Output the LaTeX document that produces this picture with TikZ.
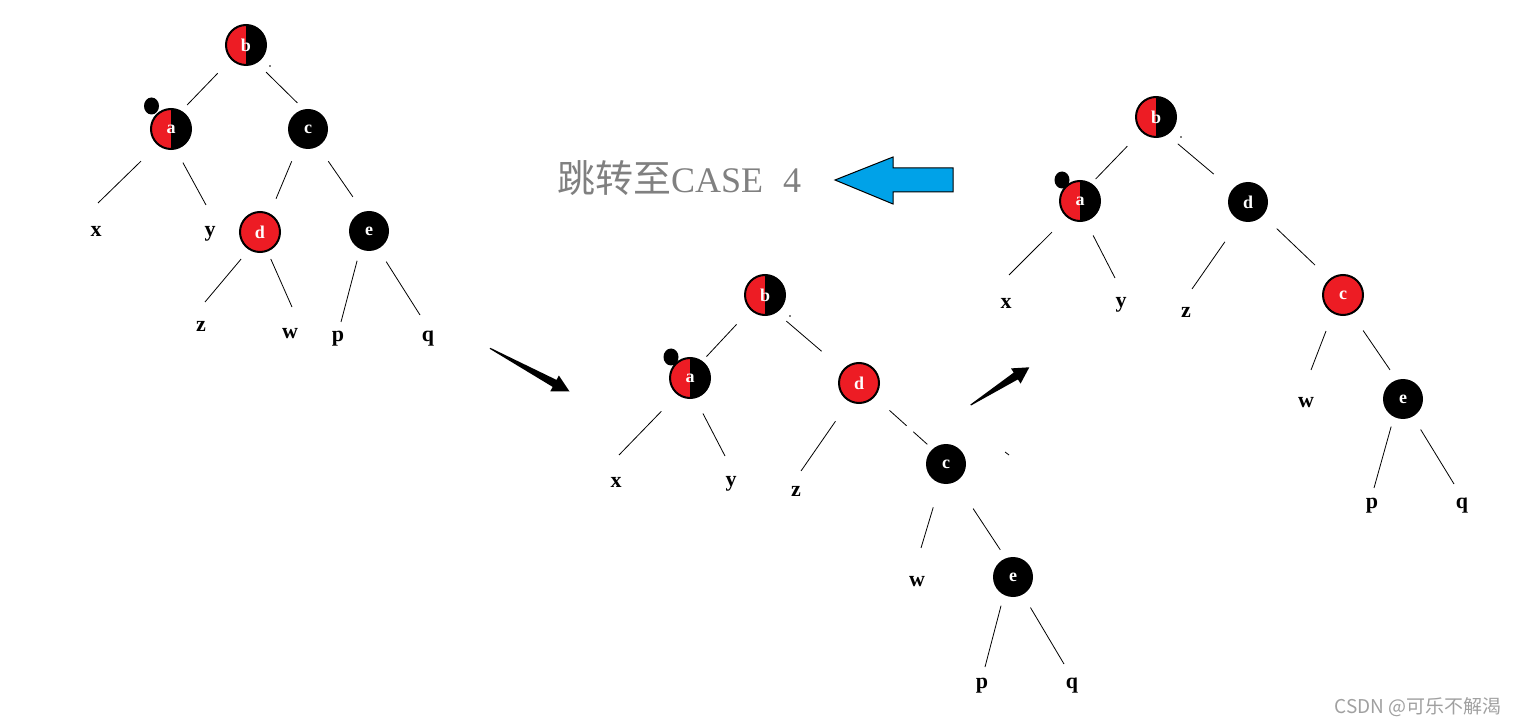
\documentclass[tikz,border=0pt]{standalone}
\usepackage{fontspec}
\setmainfont{Liberation Serif}
\newfontfamily\cjk{Noto Sans CJK SC}
\usepackage{xcolor}
\definecolor{rbred}{RGB}{237,28,36}
\definecolor{arrowblue}{RGB}{0,162,232}
\definecolor{tipgray}{RGB}{128,128,128}
\definecolor{markgray}{RGB}{160,160,160}

\begin{document}
\begin{tikzpicture}[x=1pt, y=-1pt,
                    rb/.style={circle, minimum size=40pt, inner sep=0pt, text=white, font=\fontsize{18}{18}\selectfont\bfseries},
                    blacknode/.style={rb, fill=black},
                    rednode/.style={rb, fill=rbred, draw=black, line width=2pt},
                    halfnode/.style={rb, draw=black, line width=2pt, path picture={
                        \fill[rbred] (path picture bounding box.south west) rectangle (path picture bounding box.north);
                        \fill[black] (path picture bounding box.south) rectangle (path picture bounding box.north east);}},
                    leaf/.style={inner sep=0pt, text height=1ex, text depth=0pt, font=\fontsize{22}{22}\selectfont\bfseries},
                    edge/.style 2 args={line width=0.8pt, shorten <=#1pt, shorten >=#2pt}]
                        \useasboundingbox (0,0) rectangle (1516,727);

                        % first tree
                        \node (b1) at (246,45) [halfnode] {b};
                        \node (a1) at (171,129) [halfnode] {a};
                        \node (c1) at (308,129) [blacknode] {c};
                        \node (d1) at (260,232) [rednode] {d};
                        \node (e1) at (369,231) [blacknode] {e};
                        \fill (151.5,106) ellipse (7.5 and 8.5);
                        \fill (270,66) circle (0.8);
                        \node (x1) at (96,234) [leaf] {x};
                        \node (y1) at (210,234) [leaf] {y};
                        \node (z1) at (201,329) [leaf] {z};
                        \node (w1) at (290,336) [leaf] {w};
                        \node (p1) at (338,339) [leaf] {p};
                        \node (q1) at (428,339) [leaf] {q};
                        \coordinate (xe1) at (98,203);
                        \coordinate (ye1) at (206,205);
                        \coordinate (ze1) at (205,302);
                        \coordinate (we1) at (292,307);
                        \coordinate (pe1) at (341,322);
                        \coordinate (qe1) at (420,315);

                    \draw[edge={19}{8}] (b1.-136) -- (a1.60);
                        \draw[edge={13}{9}] (b1.-59) -- (c1.102);
                        \draw[edge={23}{0}] (a1.-130) -- (xe1);
                        \draw[edge={15}{0}] (a1.-77) -- (ye1);
                        \draw[edge={16}{16}] (c1.-120) -- (d1.62);
                        \draw[edge={18}{18}] (c1.-60) -- (e1.107);
                        \draw[edge={12}{0}] (d1.-122) -- (ze1);
                        \draw[edge={8}{0}] (d1.-69) -- (we1);
                        \draw[edge={12}{0}] (e1.-116) -- (pe1);
                        \draw[edge={15}{0}] (e1.-63) -- (qe1);

                        % second tree
                        \node (b2) at (765,295) [halfnode] {b};
                        \node (a2) at (690,378) [halfnode] {a};
                        \node (d2) at (859,383) [rednode] {d};
                        \node (c2) at (946,464) [blacknode] {c};
                        \node (e2) at (1013,577) [blacknode] {e};
                        \fill (671,357) ellipse (7.5 and 8.5);
                        \fill (790,316) circle (0.8);
                        \draw[line width=0.8pt] (1005,452) -- (1009,455);
                        \node (x2) at (616,485) [leaf] {x};
                        \node (y2) at (731,484) [leaf] {y};
                        \node (z2) at (796,494) [leaf] {z};
                        \node (w2) at (917,584) [leaf] {w};
                        \node (p2) at (982,686) [leaf] {p};
                        \node (q2) at (1072,686) [leaf] {q};
                        \coordinate (xe2) at (619,455);
                        \coordinate (ye2) at (725,456);
                        \coordinate (ze2) at (801,471);
                        \coordinate (we2) at (921,548);
                        \coordinate (pe2) at (985,667);
                        \coordinate (qe2) at (1064,664);

                    \draw[edge={20}{6}] (b2.-135) -- (a2.54);
                        \draw[edge={13}{28}] (b2.-57) -- (d2.140);
                        \draw[edge={23}{0}] (a2.-127) -- (xe2);
                        \draw[edge={17}{0}] (a2.-76) -- (ye2);
                        \draw[edge={24}{0}] (d2.-118) -- (ze2);
                        \draw[edge={20}{7}, dash pattern=on 23pt off 9pt on 20pt] (d2.-42) -- (c2.132);
                        \draw[edge={25}{0}] (c2.-106) -- (we2);
                        \draw[edge={32}{10}] (c2.-62) -- (e2.111);
                        \draw[edge={11}{0}] (e2.-117) -- (pe2);
                        \draw[edge={15}{0}] (e2.-61) -- (qe2);

                        % third tree
                        \node (b3) at (1156,117) [halfnode] {b};
                        \node (a3) at (1080,201) [halfnode] {a};
                        \node (d3) at (1248,202) [blacknode] {d};
                        \node (c3) at (1343,295) [rednode] {c};
                        \node (e3) at (1403,399) [blacknode] {e};
                        \fill (1062,180) ellipse (7.5 and 8.5);
                        \fill (1181,137) circle (0.8);
                        \node (x3) at (1006,306) [leaf] {x};
                        \node (y3) at (1121,305) [leaf] {y};
                        \node (z3) at (1186,315) [leaf] {z};
                        \node (w3) at (1306,405) [leaf] {w};
                        \node (p3) at (1372,506) [leaf] {p};
                        \node (q3) at (1462,506) [leaf] {q};
                        \coordinate (xe3) at (1009,275);
                        \coordinate (ye3) at (1115,278);
                        \coordinate (ze3) at (1192,289);
                        \coordinate (we3) at (1311,370);
                        \coordinate (pe3) at (1374,488);
                        \coordinate (qe3) at (1454,484);

                    \draw[edge={20}{6}] (b3.-135) -- (a3.57);
                        \draw[edge={14}{24}] (b3.-58) -- (d3.142);
                        \draw[edge={21}{0}] (a3.-129) -- (xe3);
                        \draw[edge={16}{0}] (a3.-74) -- (ye3);
                        \draw[edge={26}{0}] (d3.-114) -- (ze3);
                        \draw[edge={19}{20}] (d3.-42) -- (c3.130);
                        \draw[edge={19}{0}] (c3.-119) -- (we3);
                        \draw[edge={20}{12}] (c3.-65) -- (e3.108);
                        \draw[edge={10}{0}] (e3.-117) -- (pe3);
                        \draw[edge={15}{0}] (e3.-61) -- (qe3);

                        % arrows between the trees
                        \fill (490.3,347.8) -- (556.5,379.9) -- (558.9,375.5) -- (569.5,391.5)
                            -- (550.3,391.3) -- (552.7,386.9) -- (489.7,348.8) -- cycle;
                        \fill (970.4,404.5) -- (1013.7,372.6) -- (1011.0,368.4) -- (1029.3,367.3)
                            -- (1020.6,383.6) -- (1017.9,379.4) -- (971.0,405.5) -- cycle;
                        \filldraw[fill=arrowblue, draw=black, line width=1pt]
                            (835,180) -- (893,157) -- (893,168) -- (953,168) -- (953,192) -- (893,192) -- (893,204) -- cycle;

                        \node (jump) at (557,193) [anchor=base west, inner sep=0pt, text=tipgray]
                            {{\cjk\fontsize{38}{38}\selectfont 跳转至}{\fontsize{36}{36}\selectfont CASE\hspace{20pt}4}};
                        \node (mark) at (1418,707) [text=markgray, font=\cjk\fontsize{19}{19}\selectfont] {CSDN @可乐不解渴};

                    \end{tikzpicture}
\end{document}
